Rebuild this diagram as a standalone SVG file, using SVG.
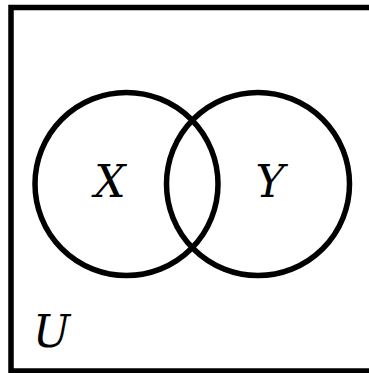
<svg xmlns="http://www.w3.org/2000/svg" width="369" height="373" viewBox="0 0 369 373">
<style>
.ln{fill:none;stroke:#000;stroke-width:5.5}
.lb{font-family:"DejaVu Serif",serif;font-style:italic;font-size:44px;fill:#000}
</style>
<rect width="369" height="373" fill="#fff"/>
<g id="universe">
<path class="ln" d="M380 7.5 H11 V371 H380"/>
<text class="lb" x="33" y="347">U</text>
</g>
<g id="setX">
<circle class="ln" cx="126.5" cy="184" r="91.5"/>
<text class="lb" x="110" y="197" text-anchor="middle">X</text>
</g>
<g id="setY">
<circle class="ln" cx="258" cy="184" r="91.5"/>
<text class="lb" x="270" y="197" text-anchor="middle">Y</text>
</g>
<g id="connectors"/>
</svg>
